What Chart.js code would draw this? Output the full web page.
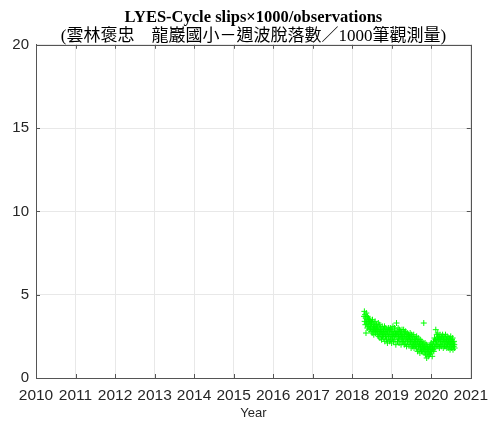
<!DOCTYPE html>
<html>
<head>
<meta charset="utf-8">
<script src="https://cdn.jsdelivr.net/npm/chart.js@4"></script>
<style>
  body { margin: 0; background: #fff; }
</style>
</head>
<body>
<canvas id="slipChart" width="496" height="423"></canvas>
<script>
// station LYES, cycle slips per 1000 observations, one sample every 3 days
const firstEpoch = 2018.30;
const sampleDays = 3;
const slips = [
  3.7, 4.0, 3.4, 3.8, 3.2, 3.6, 2.7, 3.9, 3.3, 3.5, 3.0, 3.7, 3.4, 3.1, 3.6, 3.3, 2.9, 3.5, 3.2, 3.4,
  3.0, 3.4, 2.8, 3.3, 3.1, 2.7, 3.5, 2.9, 3.2, 3.0, 2.6, 3.3, 2.9, 3.1, 3.4, 2.7, 3.0, 2.8, 3.2, 2.9,
  3.1, 2.6, 3.0, 2.8, 3.3, 2.5, 2.9, 2.7, 3.2, 2.4, 2.8, 3.0, 2.6, 2.9, 2.3, 2.7, 3.1, 2.5, 2.8, 2.6,
  2.9, 2.4, 2.7, 3.1, 2.2, 2.8, 2.5, 3.0, 2.6, 2.3, 2.9, 2.7, 2.1, 2.8, 2.5, 3.0, 2.4, 2.6, 2.9, 2.2,
  2.7, 3.0, 2.3, 2.6, 2.9, 2.1, 2.5, 2.8, 2.4, 3.1, 2.6, 2.2, 2.7, 2.5, 3.0, 2.3, 2.8, 2.6, 2.0, 2.7,
  3.3, 2.5, 2.8, 2.2, 2.6, 3.0, 2.4, 2.7, 2.1, 2.9, 2.5, 2.3, 2.8, 2.6, 2.0, 2.7, 2.4, 2.9, 2.2, 2.5,
  2.6, 2.2, 2.9, 2.4, 2.0, 2.7, 2.5, 2.1, 2.8, 2.3, 2.6, 1.9, 2.4, 2.7, 2.2, 2.5, 2.0, 2.6, 2.3, 2.4,
  2.5, 2.0, 2.7, 2.2, 2.4, 1.8, 2.6, 2.1, 2.3, 1.9, 2.5, 2.2, 2.0, 2.6, 1.8, 2.3, 2.1, 2.4, 1.9, 2.2,
  2.3, 1.8, 2.5, 2.0, 2.2, 1.6, 2.1, 2.4, 1.9, 1.7, 2.2, 2.0, 1.5, 2.3, 1.8, 2.1, 1.9, 1.6, 2.2, 1.8,
  2.0, 1.6, 2.1, 1.8, 3.3, 1.5, 1.9, 1.7, 2.1, 1.4, 1.8, 1.6, 2.0, 1.2, 1.7, 1.9, 1.5, 1.8, 1.3, 1.7,
  1.6, 1.9, 1.4, 1.8, 2.0, 1.5, 1.7, 2.1, 1.6, 1.9, 1.3, 1.8, 2.0, 1.7, 2.2, 1.6, 1.9, 2.4, 1.8, 2.1,
  2.3, 2.9, 1.9, 2.2, 2.6, 2.0, 2.4, 2.7, 1.9, 2.3, 2.5, 2.1, 1.8, 2.4, 2.6, 2.0, 2.3, 2.2, 1.9, 2.5,
  2.4, 2.0, 2.6, 2.2, 1.8, 2.3, 2.5, 2.1, 1.9, 2.4, 2.2, 2.6, 1.9, 2.1, 2.3, 1.8, 2.5, 2.0, 2.2, 2.4,
  2.2, 1.8, 2.4, 2.0, 2.3, 1.7, 2.1, 2.5, 1.9, 2.2, 1.8, 2.3, 2.0, 2.4, 1.7, 2.1, 1.9, 2.2, 2.0, 1.8,
];
const yearTicks = [2010, 2011, 2012, 2013, 2014, 2015, 2016, 2017, 2018, 2019, 2020, 2021];
const valueTicks = [0, 5, 10, 15, 20];

const points = slips.map((v, i) => ({x: firstEpoch + i * sampleDays / 365.25, y: v}));

// box around the plot with small inward tick marks
const boxPlugin = {
  id: 'box',
  afterDraw(chart) {
    const {ctx, chartArea: a, scales} = chart;
    ctx.save();
    ctx.strokeStyle = '#555';
    ctx.lineWidth = 1;
    ctx.beginPath();
    yearTicks.forEach(t => {
      const px = Math.round(scales.x.getPixelForValue(t)) + 0.5;
      ctx.moveTo(px, a.bottom); ctx.lineTo(px, a.bottom - 4);
      ctx.moveTo(px, a.top); ctx.lineTo(px, a.top + 4);
    });
    valueTicks.forEach(t => {
      const py = Math.round(scales.y.getPixelForValue(t)) + 0.5;
      ctx.moveTo(a.left, py); ctx.lineTo(a.left + 4, py);
      ctx.moveTo(a.right, py); ctx.lineTo(a.right - 4, py);
    });
    ctx.stroke();
    ctx.strokeRect(Math.round(a.left) + 0.5, Math.round(a.top) + 0.5,
      Math.round(a.right - a.left), Math.round(a.bottom - a.top));
    ctx.restore();
  },
};

new Chart(document.getElementById('slipChart'), {
  type: 'scatter',
  data: {
    datasets: [{
      data: points,
      pointStyle: 'cross',
      pointRadius: 3,
      borderColor: '#00ff00',
      backgroundColor: '#00ff00',
      borderWidth: 1,
    }],
  },
  options: {
    responsive: false,
    animation: false,
    devicePixelRatio: 1,
    layout: {padding: {left: 0, right: 22, top: 0, bottom: 0}},
    plugins: {
      legend: {display: false},
      tooltip: {enabled: false},
      title: {
        display: true,
        fullSize: false,
        text: 'LYES-Cycle slips×1000/observations',
        color: '#000',
        font: {family: 'Liberation Serif', size: 16.5, weight: 'bold'},
        padding: {top: 8, bottom: 0},
      },
      subtitle: {
        display: true,
        fullSize: false,
        text: '(雲林褒忠　龍巖國小－週波脫落數／1000筆觀測量)',
        color: '#000',
        font: {family: '"Liberation Serif", "Noto Sans CJK TC"', size: 17, lineHeight: 1.0},
        padding: {top: 0, bottom: 0},
      },
    },
    scales: {
      x: {
        type: 'linear',
        min: 2010,
        max: 2021,
        afterBuildTicks: scale => { scale.ticks = yearTicks.map(v => ({value: v})); },
        afterFit: scale => { scale.height = 45; },
        grid: {color: '#e8e8e8', drawTicks: false},
        border: {color: '#555'},
        ticks: {
          color: '#262626',
          font: {family: 'Liberation Sans', size: 15.5},
          padding: 8,
          maxRotation: 0,
          autoSkip: false,
          callback: v => String(v),
        },
        title: {
          display: true,
          text: 'Year',
          color: '#262626',
          font: {family: 'Liberation Sans', size: 13},
          padding: {top: 0, bottom: 2},
        },
      },
      y: {
        min: 0,
        max: 20,
        afterBuildTicks: scale => { scale.ticks = valueTicks.map(v => ({value: v})); },
        afterFit: scale => { scale.width = 36; },
        grid: {color: '#e8e8e8', drawTicks: false},
        border: {color: '#555'},
        ticks: {
          color: '#262626',
          font: {family: 'Liberation Sans', size: 15},
          padding: 7,
        },
      },
    },
  },
  plugins: [boxPlugin],
});
</script>
</body>
</html>
